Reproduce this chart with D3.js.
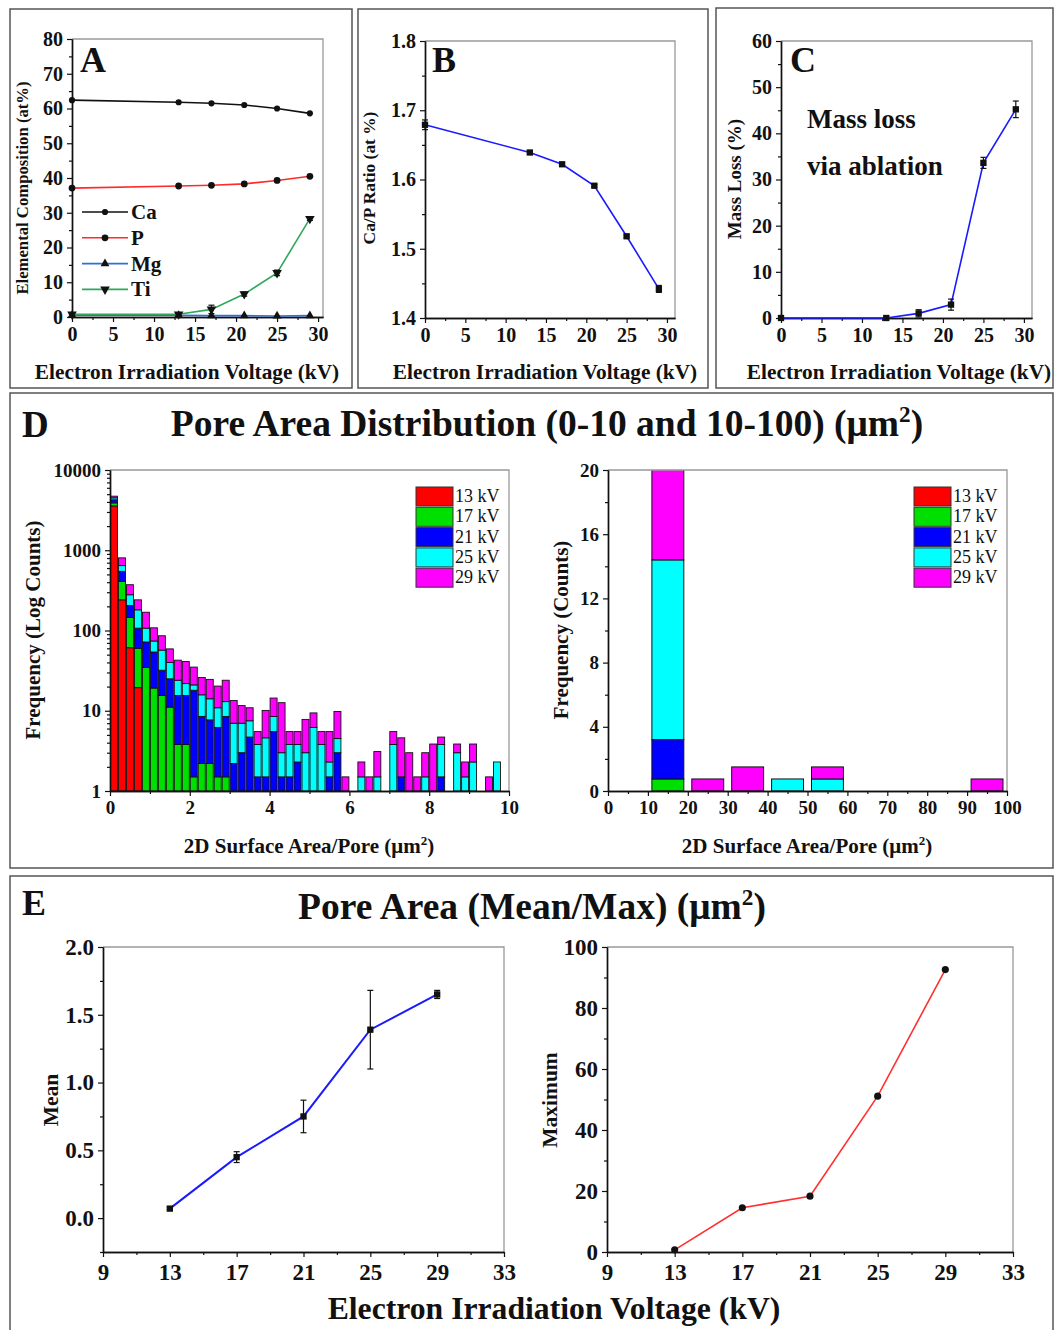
<!DOCTYPE html>
<html>
<head>
<meta charset="utf-8">
<title>Electron irradiation of HA</title>
<script src="https://d3js.org/d3.v7.min.js"></script>
<style>
    body { margin: 0; background: #fff; }
    svg text { font-family: "Liberation Serif", "Times New Roman", serif; font-weight: bold; fill: #111; }
</style>
</head>
<body>
<svg id="fig" width="1054" height="1330"></svg>
<script>
// ---------- data ----------
var voltsA = [0, 13, 17, 21, 25, 29];
var caVals = [62.4, 61.8, 61.5, 61.0, 60.0, 58.6];
var pVals  = [37.1, 37.7, 37.9, 38.3, 39.3, 40.5];
var mgVals = [0.5, 0.5, 0.4, 0.4, 0.3, 0.4];
var tiVals = [0.8, 0.8, 2.2, 6.6, 12.7, 28.3];
var tiErr  = [0, 0.3, 1.2, 0.6, 0.8, 0.5];

var caPRatio = [1.679, 1.639, 1.622, 1.591, 1.518, 1.442];
var caPErr   = [0.007, 0.002, 0.002, 0.002, 0.002, 0.005];

var massLoss = [0, 0, 1.0, 2.9, 33.6, 45.2];
var massErr  = [0, 0, 0.8, 1.2, 1.2, 1.8];

var kvKeys   = ["k13", "k17", "k21", "k25", "k29"];
var kvLabels = ["13 kV", "17 kV", "21 kV", "25 kV", "29 kV"];
var kvColors = ["#ff0000", "#00e000", "#0000ff", "#00ffff", "#ff00ff"];

// pore area 0-10 um2, bins of 0.2
var smallBinStart = [0, 0.2, 0.4, 0.6, 0.8, 1, 1.2, 1.4, 1.6, 1.8,
    2, 2.2, 2.4, 2.6, 2.8, 3, 3.2, 3.4, 3.6, 3.8,
    4, 4.2, 4.4, 4.6, 4.8, 5, 5.2, 5.4, 5.6, 5.8,
    6, 6.2, 6.4, 6.6, 6.8, 7, 7.2, 7.4, 7.6, 7.8,
    8, 8.2, 8.4, 8.6, 8.8, 9, 9.2, 9.4, 9.6, 9.8];
var smallBinWidth = 0.2;
var small13 = [3570, 241, 61, 19.4, 0, 0, 0, 0, 0, 0,
    0, 0, 0, 0, 0, 0, 0, 0, 0, 0,
    0, 0, 0, 0, 0, 0, 0, 0, 0, 0,
    0, 0, 0, 0, 0, 0, 0, 0, 0, 0,
    0, 0, 0, 0, 0, 0, 0, 0, 0, 0];
var small17 = [320, 168, 84, 40.6, 34.6, 19.2, 15.5, 11.1, 3.8, 3.8,
    1.5, 2.2, 2.2, 1.5, 1.5, 0, 0, 0, 0, 0,
    0, 0, 0, 0, 0, 0, 0, 0, 0, 0,
    0, 0, 0, 0, 0, 0, 0, 0, 0, 0,
    0, 0, 0, 0, 0, 0, 0, 0, 0, 0];
var small21 = [360, 137, 60, 47, 37.4, 34.8, 16.5, 13.9, 11.7, 11.7,
    16.5, 6.3, 5.5, 4.7, 7, 2.2, 3.0, 4.7, 1.5, 1.5,
    5.5, 1.5, 1.5, 2.3, 0, 0, 0, 1.5, 3.0, 0,
    0, 0, 0, 0, 0, 0, 1.5, 0, 0, 0,
    0, 1.5, 0, 0, 0, 0, 0, 0, 0, 0];
var small25 = [250, 98, 74, 74, 35, 20, 25, 15, 8.5, 6.3,
    3, 7.3, 6.4, 4.7, 4.5, 4.8, 4.0, 2.8, 2.3, 3.1,
    3.0, 1.5, 2.3, 1.5, 3.0, 6.2, 3.8, 0.8, 1.5, 0,
    0, 1.5, 0, 1.5, 0, 3.8, 0, 0, 0, 1.5,
    0, 2.3, 0, 3.0, 1.5, 2.3, 0, 0, 2.3, 0];
var small29 = [220, 160, 93, 60, 62, 34, 29, 19, 18.7, 19.2,
    14, 10.2, 10.5, 9.4, 11, 6.4, 4.6, 3.4, 1.7, 5.5,
    5.9, 9.6, 1.7, 1.7, 4.8, 3.2, 1.7, 3.2, 5.3, 1.5,
    0, 0.8, 1.5, 1.6, 0, 1.7, 3.1, 3.0, 1.5, 1.5,
    3.85, 0.9, 0, 0.85, 0.8, 1.55, 0, 1.5, 0, 0];

// pore area 10-100 um2, bins of 10
var largeBinStart = [10, 20, 30, 40, 50, 60, 70, 80, 90];
var largeBinWidth = 10;
var large13 = [0, 0, 0, 0, 0, 0, 0, 0, 0];
var large17 = [0.75, 0, 0, 0, 0, 0, 0, 0, 0];
var large21 = [2.45, 0, 0, 0, 0, 0, 0, 0, 0];
var large25 = [11.2, 0, 0, 0.75, 0.75, 0, 0, 0, 0];
var large29 = [6.6, 0.75, 1.5, 0, 0.75, 0, 0, 0, 0.75];

var voltsE  = [13, 17, 21, 25, 29];
var poreMean = [0.07, 0.45, 0.75, 1.39, 1.65];
var meanErr  = [0.01, 0.04, 0.12, 0.29, 0.03];
var poreMax  = [0.7, 14.5, 18.3, 51.1, 92.6];

// ---------- helpers ----------
var fig = d3.select("#fig");

function panelBox(x0, y0, x1, y1) {
    fig.append("rect").attr("x", x0).attr("y", y0)
        .attr("width", x1 - x0).attr("height", y1 - y0)
        .attr("fill", "none").attr("stroke", "#555").attr("stroke-width", 1.5);
}

function label(txt, x, y, size, anchor, rot) {
    var t = fig.append("text").attr("x", x).attr("y", y)
        .attr("font-size", size).attr("text-anchor", anchor || "middle").text(txt);
    if (rot) t.attr("transform", "rotate(-90," + x + "," + y + ")");
    return t;
}

// label with a superscript 2 after the given text, plus trailing text
function labelSq(before, after, x, y, size, rot) {
    var t = fig.append("text").attr("x", x).attr("y", y)
        .attr("font-size", size).attr("text-anchor", "middle");
    t.append("tspan").text(before);
    t.append("tspan").attr("dy", -size * 0.38).attr("font-size", size * 0.62).text("2");
    t.append("tspan").attr("dy", size * 0.38).text(after);
    if (rot) t.attr("transform", "rotate(-90," + x + "," + y + ")");
    return t;
}

function frame(x, y, o) {
    var g = fig.append("g");
    var xr = x.range(), yr = y.range();
    g.append("path")
        .attr("d", "M" + xr[0] + "," + yr[1] + "H" + xr[1] + "V" + yr[0])
        .attr("fill", "none").attr("stroke", "#999").attr("stroke-width", 1.3);

    var bx = g.append("g").attr("transform", "translate(0," + yr[0] + ")");
    bx.append("g").call(d3.axisBottom(x).tickValues(o.xMinor).tickSize(3).tickSizeOuter(0).tickFormat(""));
    bx.append("g").call(d3.axisBottom(x).tickValues(o.xMajor).tickSize(5).tickSizeOuter(0)
        .tickPadding(o.xPad || 5).tickFormat(o.xFmt || d3.format("d")));

    var ly = g.append("g").attr("transform", "translate(" + xr[0] + ",0)");
    ly.append("g").call(d3.axisLeft(y).tickValues(o.yMinor).tickSize(3).tickSizeOuter(0).tickFormat(""));
    ly.append("g").call(d3.axisLeft(y).tickValues(o.yMajor).tickSize(5).tickSizeOuter(0)
        .tickPadding(o.yPad || 4).tickFormat(o.yFmt || d3.format("d")));

    g.selectAll(".domain").attr("stroke", "#111").attr("stroke-width", 1.4);
    g.selectAll(".tick line").attr("stroke", "#111").attr("stroke-width", 1.2);
    g.selectAll(".tick text").attr("font-size", o.fs).attr("fill", "#111");
    return g;
}

function errBars(x, y, xs, ys, es, cap) {
    var g = fig.append("g").attr("stroke", "#111").attr("stroke-width", 1.2);
    xs.forEach(function(v, i) {
        if (!es[i]) return;
        var px = x(v);
        g.append("line").attr("x1", px).attr("x2", px)
            .attr("y1", y(ys[i] - es[i])).attr("y2", y(ys[i] + es[i]));
        [ys[i] - es[i], ys[i] + es[i]].forEach(function(e) {
            g.append("line").attr("x1", px - cap).attr("x2", px + cap).attr("y1", y(e)).attr("y2", y(e));
        });
    });
}

function series(x, y, xs, ys, color, shape, size, width) {
    var pts = xs.map(function(v, i) { return [v, ys[i]]; });
    fig.append("path").datum(pts)
        .attr("fill", "none").attr("stroke", color).attr("stroke-width", width || 1.6)
        .attr("d", d3.line().x(function(d) { return x(d[0]); }).y(function(d) { return y(d[1]); }));
    var sym = d3.symbol().type(shape === "down" ? d3.symbolTriangle : shape).size(size);
    fig.append("g").selectAll("path").data(pts).enter().append("path")
        .attr("d", sym)
        .attr("fill", "#111")
        .attr("transform", function(d) {
            return "translate(" + x(d[0]) + "," + y(d[1]) + ")" + (shape === "down" ? " rotate(180)" : "");
        });
}

// ---------- panel A ----------
panelBox(10, 9, 352, 388);
var xA = d3.scaleLinear().domain([0, 30.6]).range([72, 323]);
var yA = d3.scaleLinear().domain([0, 80]).range([317, 39]);
frame(xA, yA, {
    xMajor: [0, 5, 10, 15, 20, 25, 30], xMinor: [2.5, 7.5, 12.5, 17.5, 22.5, 27.5],
    yMajor: [0, 10, 20, 30, 40, 50, 60, 70, 80], yMinor: [5, 15, 25, 35, 45, 55, 65, 75], fs: 20
});
series(xA, yA, voltsA, caVals, "#111", d3.symbolCircle, 30);
series(xA, yA, voltsA, pVals, "#ff2a2a", d3.symbolCircle, 36);
series(xA, yA, voltsA, mgVals, "#2f6fd8", d3.symbolTriangle, 34);
series(xA, yA, voltsA, tiVals, "#2ea85a", "down", 40);
errBars(xA, yA, voltsA, tiVals, tiErr, 3);
label("A", 80, 72, 36, "start");
label("Elemental Composition (at%)", 28, 188, 16.7, "middle", true);
label("Electron Irradiation Voltage (kV)", 187, 379, 21.3);

var legA = [
    { name: "Ca", color: "#111", shape: d3.symbolCircle, size: 30 },
    { name: "P", color: "#ff2a2a", shape: d3.symbolCircle, size: 36 },
    { name: "Mg", color: "#2f6fd8", shape: d3.symbolTriangle, size: 34 },
    { name: "Ti", color: "#2ea85a", shape: d3.symbolTriangle, size: 40, flip: true }
];
legA.forEach(function(d, i) {
    var ly = 212 + i * 25.8;
    fig.append("line").attr("x1", 82).attr("x2", 128).attr("y1", ly).attr("y2", ly)
        .attr("stroke", d.color).attr("stroke-width", 1.6);
    fig.append("path").attr("d", d3.symbol().type(d.shape).size(d.size))
        .attr("fill", "#111")
        .attr("transform", "translate(105," + ly + ")" + (d.flip ? " rotate(180)" : ""));
    label(d.name, 131, ly + 7, 21, "start");
});

// ---------- panel B ----------
panelBox(358, 9, 708, 388);
var xB = d3.scaleLinear().domain([0, 31]).range([425, 675]);
var yB = d3.scaleLinear().domain([1.4, 1.8]).range([318, 41]);
frame(xB, yB, {
    xMajor: [0, 5, 10, 15, 20, 25, 30], xMinor: [2.5, 7.5, 12.5, 17.5, 22.5, 27.5],
    yMajor: [1.4, 1.5, 1.6, 1.7, 1.8], yMinor: [1.45, 1.55, 1.65, 1.75],
    yFmt: d3.format(".1f"), fs: 20
});
series(xB, yB, voltsA, caPRatio, "#1a1aff", d3.symbolSquare, 40);
errBars(xB, yB, voltsA, caPRatio, caPErr, 3);
label("B", 432, 72, 36, "start");
label("Ca/P Ratio (at %)", 375, 178, 17.4, "middle", true);
label("Electron Irradiation Voltage (kV)", 545, 379, 21.3);

// ---------- panel C ----------
panelBox(716, 8, 1053, 388);
var xC = d3.scaleLinear().domain([0, 31]).range([781, 1032]);
var yC = d3.scaleLinear().domain([0, 60]).range([318, 41]);
frame(xC, yC, {
    xMajor: [0, 5, 10, 15, 20, 25, 30], xMinor: [2.5, 7.5, 12.5, 17.5, 22.5, 27.5],
    yMajor: [0, 10, 20, 30, 40, 50, 60], yMinor: [5, 15, 25, 35, 45, 55], fs: 20
});
series(xC, yC, voltsA, massLoss, "#1a1aff", d3.symbolSquare, 40);
errBars(xC, yC, voltsA, massLoss, massErr, 3);
label("C", 790, 72, 36, "start");
label("Mass loss", 807, 128, 27, "start");
label("via ablation", 807, 175, 27, "start");
label("Mass Loss (%)", 741, 179, 19, "middle", true);
label("Electron Irradiation Voltage (kV)", 899, 379, 21.3);

// ---------- panel D ----------
panelBox(10, 393, 1053, 868);
label("D", 22, 437, 37, "start");
labelSq("Pore Area Distribution (0-10 and 10-100) (\u03bcm", ")", 547, 436, 37.5);

function histTable(starts, arrs) {
    return starts.map(function(s, i) {
        var row = { start: s };
        kvKeys.forEach(function(k, j) { row[k] = arrs[j][i]; });
        return row;
    });
}

var stackGen = d3.stack().keys(kvKeys);

// left: log counts
var xDL = d3.scaleLinear().domain([0, 10]).range([110, 509]);
var yDL = d3.scaleLog().domain([1, 10000]).range([791, 470]);
var logMinor = [];
[1, 10, 100, 1000].forEach(function(dec) {
    [2, 3, 4, 5, 6, 7, 8, 9].forEach(function(m) { logMinor.push(dec * m); });
});
var smallStack = stackGen(histTable(smallBinStart, [small13, small17, small21, small25, small29]));
smallStack.forEach(function(layer, li) {
    fig.append("g").selectAll("rect").data(layer.filter(function(d) { return d[1] > d[0] && d[1] > 1; }))
        .enter().append("rect")
        .attr("x", function(d) { return xDL(d.data.start) + 0.5; })
        .attr("width", function(d) { return xDL(d.data.start + smallBinWidth) - xDL(d.data.start) - 1; })
        .attr("y", function(d) { return yDL(d[1]); })
        .attr("height", function(d) { return yDL(Math.max(1, d[0])) - yDL(d[1]); })
        .attr("fill", kvColors[li]).attr("stroke", "#111").attr("stroke-width", 0.9);
});
frame(xDL, yDL, {
    xMajor: [0, 2, 4, 6, 8, 10], xMinor: [1, 3, 5, 7, 9],
    yMajor: [1, 10, 100, 1000, 10000], yMinor: logMinor, fs: 19
});
label("Frequency (Log Counts)", 40, 630, 21, "middle", true);
labelSq("2D Surface Area/Pore (\u03bcm", ")", 309, 853, 21);

// right: counts
var xDR = d3.scaleLinear().domain([0, 100]).range([608, 1007]);
var yDR = d3.scaleLinear().domain([0, 20]).range([791, 470]);
fig.append("clipPath").attr("id", "clipDR").append("rect")
    .attr("x", xDR(0)).attr("y", yDR(20)).attr("width", xDR(100) - xDR(0)).attr("height", yDR(0) - yDR(20));
var largeStack = stackGen(histTable(largeBinStart, [large13, large17, large21, large25, large29]));
var gDR = fig.append("g").attr("clip-path", "url(#clipDR)");
largeStack.forEach(function(layer, li) {
    gDR.append("g").selectAll("rect").data(layer.filter(function(d) { return d[1] > d[0]; }))
        .enter().append("rect")
        .attr("x", function(d) { return xDR(d.data.start + largeBinWidth * 0.1); })
        .attr("width", function(d) { return xDR(largeBinWidth * 0.8) - xDR(0); })
        .attr("y", function(d) { return yDR(d[1]); })
        .attr("height", function(d) { return yDR(d[0]) - yDR(d[1]); })
        .attr("fill", kvColors[li]).attr("stroke", "#111").attr("stroke-width", 1);
});
frame(xDR, yDR, {
    xMajor: [0, 10, 20, 30, 40, 50, 60, 70, 80, 90, 100], xMinor: [5, 15, 25, 35, 45, 55, 65, 75, 85, 95],
    yMajor: [0, 4, 8, 12, 16, 20], yMinor: [2, 6, 10, 14, 18], fs: 19
});
label("Frequency (Counts)", 568, 630, 21, "middle", true);
labelSq("2D Surface Area/Pore (\u03bcm", ")", 807, 853, 21);

// legends
[416, 914].forEach(function(lx) {
    kvLabels.forEach(function(name, i) {
        var ly = 487 + i * 20.3;
        fig.append("rect").attr("x", lx).attr("y", ly).attr("width", 37).attr("height", 19)
            .attr("fill", kvColors[i]).attr("stroke", "#333").attr("stroke-width", 1);
        fig.append("text").attr("x", lx + 39).attr("y", ly + 15)
            .attr("font-size", 18).style("font-weight", "normal").text(name);
    });
});

// ---------- panel E ----------
panelBox(10, 876, 1053, 1331);
label("E", 22, 915, 36, "start");
labelSq("Pore Area (Mean/Max) (\u03bcm", ")", 532, 919, 37.5);

var xEL = d3.scaleLinear().domain([9, 33]).range([103, 504]);
var yEL = d3.scaleLinear().domain([-0.25, 2.0]).range([1252, 947]);
frame(xEL, yEL, {
    xMajor: [9, 13, 17, 21, 25, 29, 33], xMinor: [11, 15, 19, 23, 27, 31],
    yMajor: [0, 0.5, 1.0, 1.5, 2.0], yMinor: [-0.25, 0.25, 0.75, 1.25, 1.75],
    yFmt: d3.format(".1f"), fs: 23, xPad: 7
});
series(xEL, yEL, voltsE, poreMean, "#1a1aff", d3.symbolSquare, 40, 2);
errBars(xEL, yEL, voltsE, poreMean, meanErr, 3);
label("Mean", 58, 1100, 21.5, "middle", true);

var xER = d3.scaleLinear().domain([9, 33]).range([607, 1013]);
var yER = d3.scaleLinear().domain([0, 100]).range([1252, 947]);
frame(xER, yER, {
    xMajor: [9, 13, 17, 21, 25, 29, 33], xMinor: [11, 15, 19, 23, 27, 31],
    yMajor: [0, 20, 40, 60, 80, 100], yMinor: [10, 30, 50, 70, 90],
    fs: 23, xPad: 7
});
series(xER, yER, voltsE, poreMax, "#ff3030", d3.symbolCircle, 40, 1.6);
label("Maximum", 557, 1100, 21.5, "middle", true);

label("Electron Irradiation Voltage (kV)", 554, 1319, 31.7);
</script>
</body>
</html>
